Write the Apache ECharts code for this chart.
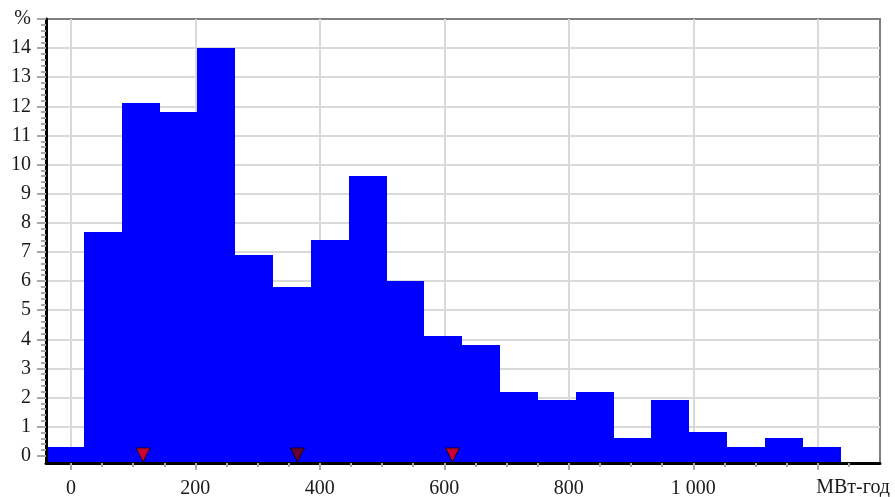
<!DOCTYPE html>
<html>
<head>
<meta charset="utf-8">
<script src="https://cdn.jsdelivr.net/npm/echarts@6/dist/echarts.min.js"></script>
<style>
  html, body { margin: 0; padding: 0; background: #ffffff; }
  #chart { width: 895px; height: 497px; }
</style>
</head>
<body>
<div id="chart"></div>
<script>
// Distribution histogram: bin edges (МВт-год) and share of outcomes per bin (%)
const binEdges = [-40, 20.8, 81.6, 142.4, 203.2, 264, 324.8, 385.6, 446.4, 507.2, 568,
                  628.8, 689.6, 750.4, 811.2, 872, 932.8, 993.6, 1054.4, 1115.2, 1176, 1236.8];
const binShares = [0.3, 7.7, 12.1, 11.8, 14.0, 6.9, 5.8, 7.4, 9.6, 6.0, 4.1,
                   3.8, 2.2, 1.9, 2.2, 0.6, 1.9, 0.8, 0.3, 0.6, 0.3];

// Marker positions along the value axis (МВт-год)
const markerValues = [116, 364, 613];

// Axis ticks and labels
const xTickValues = [0, 200, 400, 600, 800, 1000];
const xTickLabels = ['0', '200', '400', '600', '800', '1 000'];
const xGridValues = [0, 200, 400, 600, 800, 1000, 1200];
const xUnitLabel = 'МВт-год';
const yTickValues = [0, 1, 2, 3, 4, 5, 6, 7, 8, 9, 10, 11, 12, 13, 14, 15];
const yTickLabels = ['0', '1', '2', '3', '4', '5', '6', '7', '8', '9', '10', '11', '12', '13', '14', '%'];
const yGridValues = [1, 2, 3, 4, 5, 6, 7, 8, 9, 10, 11, 12, 13, 14];

const X_MIN = -40, X_MAX = 1300;
const Y_MIN = -0.25, Y_MAX = 15;
const X_MINOR_STEP = 50, Y_MINOR_STEP = 0.2;

const FONT = 'Liberation Serif, Times New Roman, serif';
const TEXT_COLOR = '#1a1a1a';
const TICK_COLOR = '#a8a8a8';
const GRID_COLOR = '#d9d9d9';
const markerColors = ['#ff0000', '#800000', '#ff0000'];

// minor tick positions between the labelled ticks
const xMinorTicks = [];
for (let v = X_MINOR_STEP; v < X_MAX - 1; v += X_MINOR_STEP) xMinorTicks.push(v);
const yMinorTicks = [];
for (let k = 1; k * Y_MINOR_STEP < Y_MAX - 1e-6; k++) yMinorTicks.push(Math.round(k * Y_MINOR_STEP * 10) / 10);

const chart = echarts.init(document.getElementById('chart'), null, { renderer: 'canvas' });

const baseX = { type: 'value', gridIndex: 0, position: 'bottom', min: X_MIN, max: X_MAX };
const baseY = { type: 'value', gridIndex: 0, position: 'left', min: Y_MIN, max: Y_MAX };

chart.setOption({
  animation: false,
  backgroundColor: '#ffffff',
  grid: {
    left: 46, right: 15, top: 19, bottom: 34,
    containLabel: false, outerBoundsMode: 'none',
    show: true, backgroundColor: '#ffffff',
    borderColor: '#808080', borderWidth: 2
  },
  xAxis: [
    // main axis: line, major ticks, labels
    Object.assign({}, baseX, {
      z: 10,
      axisLine: { show: true, onZero: false, lineStyle: { color: '#000000', width: 3 } },
      axisTick: { show: true, customValues: xGridValues, length: 7, lineStyle: { color: TICK_COLOR, width: 2 } },
      axisLabel: {
        show: true, customValues: xTickValues,
        formatter: v => xTickLabels[xTickValues.indexOf(v)] ?? '',
        margin: 16, color: TEXT_COLOR, fontFamily: FONT, fontSize: 20
      },
      splitLine: { show: false }
    }),
    // vertical grid lines, kept under the bars
    Object.assign({}, baseX, {
      z: 0,
      axisLine: { show: false, onZero: false },
      axisTick: { show: false, customValues: xGridValues },
      axisLabel: { show: false },
      splitLine: { show: true, lineStyle: { color: GRID_COLOR, width: 2 } }
    }),
    // minor ticks
    Object.assign({}, baseX, {
      z: 10,
      axisLine: { show: false, onZero: false },
      axisTick: { show: true, customValues: xMinorTicks, length: 4, lineStyle: { color: TICK_COLOR, width: 2 } },
      axisLabel: { show: false },
      splitLine: { show: false }
    })
  ],
  yAxis: [
    Object.assign({}, baseY, {
      z: 10,
      axisLine: { show: true, onZero: false, lineStyle: { color: '#000000', width: 3 } },
      axisTick: { show: true, customValues: yTickValues, length: 9, lineStyle: { color: TICK_COLOR, width: 2 } },
      axisLabel: {
        show: true, customValues: yTickValues,
        formatter: v => yTickLabels[yTickValues.indexOf(v)] ?? '',
        margin: 15, color: TEXT_COLOR, fontFamily: FONT, fontSize: 20
      },
      splitLine: { show: false }
    }),
    Object.assign({}, baseY, {
      z: 0,
      axisLine: { show: false, onZero: false },
      axisTick: { show: false, customValues: yGridValues },
      axisLabel: { show: false },
      splitLine: { show: true, lineStyle: { color: GRID_COLOR, width: 2 } }
    }),
    Object.assign({}, baseY, {
      z: 10,
      axisLine: { show: false, onZero: false },
      axisTick: { show: true, customValues: yMinorTicks, length: 5, lineStyle: { color: TICK_COLOR, width: 2 } },
      axisLabel: { show: false },
      splitLine: { show: false }
    })
  ],
  graphic: [{
    type: 'text', right: 5, top: 478,
    style: { text: xUnitLabel, fill: TEXT_COLOR, font: '20px ' + FONT }
  }],
  series: [
    {
      type: 'custom',
      xAxisIndex: 0, yAxisIndex: 0,
      z: 5,
      encode: { x: [0, 1], y: 2 },
      data: binShares.map((v, i) => [binEdges[i], binEdges[i + 1], v]),
      renderItem: (params, api) => {
        const top = api.coord([api.value(0), api.value(2)]);
        const bottom = api.coord([api.value(1), Y_MIN]);
        const x0 = Math.round(top[0]);
        const x1 = Math.round(bottom[0]);
        const y0 = Math.round(top[1]);
        return {
          type: 'rect',
          shape: { x: x0, y: y0, width: x1 - x0, height: bottom[1] - y0 },
          style: { fill: '#0000ff' }
        };
      }
    },
    {
      type: 'scatter',
      xAxisIndex: 0, yAxisIndex: 0,
      z: 20, clip: false,
      symbol: 'triangle', symbolRotate: 180,
      symbolSize: [14, 14], symbolOffset: [0, -8],
      itemStyle: { borderColor: '#000000', borderWidth: 1 },
      data: markerValues.map((v, i) => ({ value: [v, Y_MIN], itemStyle: { color: markerColors[i] } }))
    }
  ]
});
</script>
</body>
</html>
